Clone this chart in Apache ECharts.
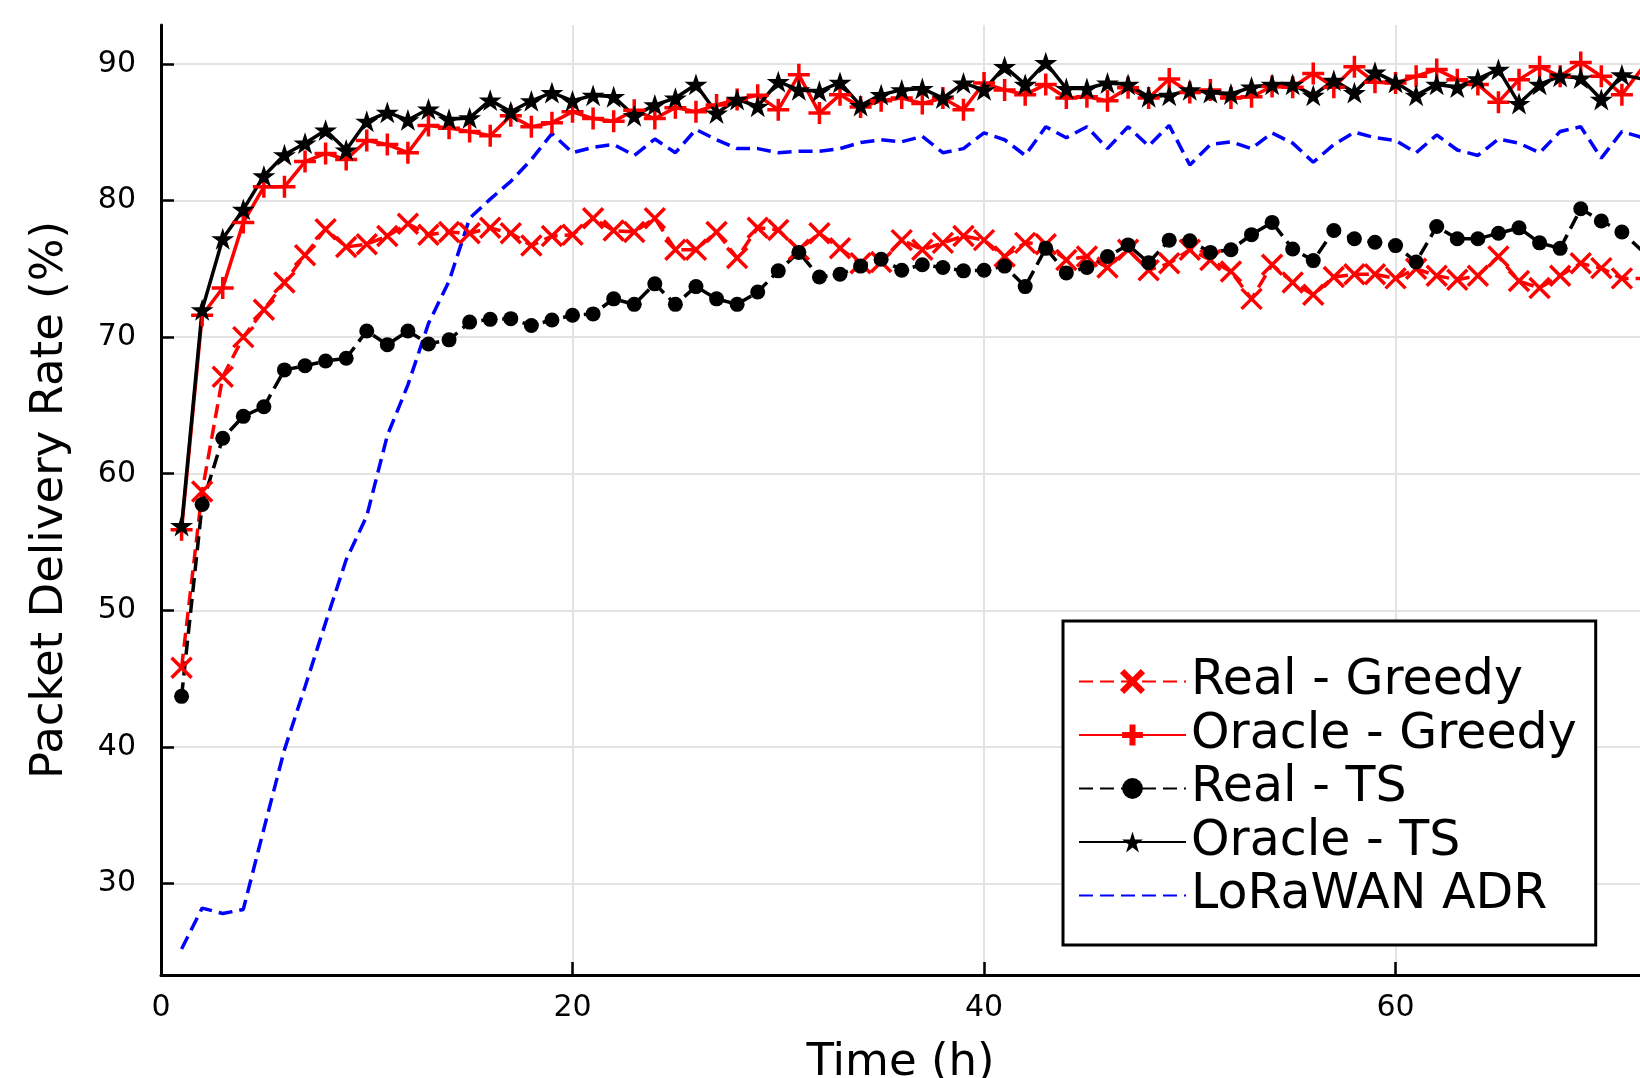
<!DOCTYPE html>
<html>
<head>
<meta charset="utf-8">
<title>Packet Delivery Rate</title>
<script src="https://cdn.jsdelivr.net/npm/echarts@6/dist/echarts.min.js"></script>
<style>
  html, body { margin: 0; padding: 0; background: #fff; }
  #chart { width: 1640px; height: 1078px; }
</style>
</head>
<body>
<div id="chart"></div>
<script>
// hours (x axis)
var hours = [1,2,3,4,5,6,7,8,9,10,11,12,13,14,15,16,17,18,19,20,
  21,22,23,24,25,26,27,28,29,30,31,32,33,34,35,36,37,38,39,40,
  41,42,43,44,45,46,47,48,49,50,51,52,53,54,55,56,57,58,59,60,
  61,62,63,64,65,66,67,68,69,70,71,72];

var realGreedy = [45.8,58.7,67.1,70.0,72.0,74.0,76.0,77.9,76.6,76.8,
  77.4,78.3,77.5,77.7,77.6,78.0,77.6,76.7,77.4,77.5,
  78.7,77.8,77.7,78.7,76.4,76.4,77.7,75.8,78.0,77.85,
  76.4,77.6,76.5,75.4,75.5,77.1,76.4,76.9,77.4,77.1,
  75.9,76.9,76.8,75.65,75.9,75.1,76.4,74.9,75.4,76.4,
  75.65,74.8,72.8,75.3,74.0,73.1,74.4,74.6,74.6,74.3,
  75.0,74.5,74.2,74.5,75.9,74.1,73.6,74.5,75.4,75.05,
  74.3,74.3];

var oracleGreedy = [55.9,71.6,73.6,78.4,81.0,81.0,82.85,83.45,83.0,84.4,
  84.1,83.5,85.5,85.3,85.05,84.75,86.2,85.4,85.7,86.5,
  86.0,85.8,86.6,86.0,86.8,86.5,87.0,87.4,87.7,86.65,
  89.2,86.4,87.75,86.85,87.3,87.5,87.1,87.5,86.65,88.6,
  88.1,87.75,88.5,87.5,87.6,87.3,88.25,87.5,88.9,87.9,
  88.1,87.5,87.6,88.35,88.3,89.3,88.3,89.8,88.65,88.6,
  89.1,89.6,88.85,88.5,87.2,88.85,89.8,89.1,90.1,89.1,
  87.75,89.7];

var realTS = [43.7,57.75,62.6,64.2,64.9,67.6,67.9,68.25,68.45,70.45,
  69.45,70.45,69.5,69.8,71.1,71.3,71.35,70.85,71.25,71.6,
  71.7,72.8,72.4,73.9,72.4,73.7,72.8,72.4,73.3,74.85,
  76.2,74.4,74.6,75.2,75.7,74.9,75.3,75.1,74.85,74.9,
  75.2,73.7,76.5,74.7,75.1,75.9,76.75,75.45,77.1,77.05,
  76.2,76.4,77.5,78.4,76.45,75.6,77.8,77.2,76.95,76.7,
  75.5,78.1,77.2,77.2,77.6,78.0,76.9,76.5,79.4,78.5,
  77.7,76.3];

var oracleTS = [56.2,72.0,77.2,79.35,81.8,83.35,84.2,85.15,83.7,85.8,
  86.45,85.9,86.7,85.95,86.05,87.35,86.5,87.3,87.9,87.3,
  87.7,87.6,86.2,87.0,87.5,88.5,86.4,87.4,86.9,88.7,
  88.1,88.0,88.65,86.95,87.75,88.1,88.2,87.5,88.6,88.1,
  89.8,88.5,90.1,88.2,88.2,88.6,88.5,87.6,87.7,88.1,
  87.9,87.8,88.3,88.5,88.5,87.7,88.8,87.9,89.4,88.65,
  87.7,88.5,88.3,88.9,89.6,87.1,88.5,89.1,88.97,87.4,
  89.2,88.9];

var lorawanADR = [25.2,28.2,27.8,28.1,34.0,39.8,44.4,49.1,53.7,56.9,
  62.8,66.5,71.0,74.1,78.7,80.1,81.4,83.0,84.9,83.5,
  83.9,84.1,83.3,84.5,83.5,85.2,84.45,83.8,83.8,83.5,
  83.6,83.6,83.8,84.25,84.45,84.3,84.7,83.5,83.8,84.95,
  84.45,83.3,85.4,84.6,85.4,83.8,85.4,84.0,85.5,82.6,
  84.1,84.3,83.8,84.95,84.2,82.8,84.1,85.0,84.6,84.4,
  83.5,84.8,83.7,83.3,84.5,84.2,83.5,85.05,85.4,83.1,
  85.05,84.6];

var xTicks = [0, 20, 40, 60];
var yTicks = [30, 40, 50, 60, 70, 80, 90];

function pairs(vals) {
  return vals.map(function (v, i) { return [hours[i], v]; });
}

var FONT = 'DejaVu Sans';
var X_SYM = 'path://M0,0L20,20M20,0L0,20';
var PLUS_SYM = 'path://M10,0L10,20M0,10L20,10';
var STAR_SYM = 'path://M50,0L61.2,34.5L97.6,34.5L68.2,55.9L79.4,90.5L50,69.1L20.6,90.5L31.8,55.9L2.4,34.5L38.8,34.5Z';

var chart = echarts.init(document.getElementById('chart'));
var option = {
  animation: false,
  backgroundColor: '#ffffff',
  textStyle: { fontFamily: FONT },
  grid: { left: 161, right: 0, top: 25, bottom: 103, containLabel: false, outerBoundsMode: 'none' },
  legend: {
    orient: 'vertical',
    left: 1063,
    top: 621,
    padding: [36, 19, 25, 15],
    itemWidth: 107,
    itemHeight: 26,
    itemGap: 4.5,
    backgroundColor: '#ffffff',
    borderColor: '#000000',
    borderWidth: 3,
    textStyle: { fontFamily: FONT, fontSize: 49, color: '#000', lineHeight: 49 },
    data: [
      { name: 'Real - Greedy', itemStyle: { borderWidth: 6 } },
      { name: 'Oracle - Greedy', itemStyle: { borderWidth: 6 } },
      'Real - TS',
      'Oracle - TS',
      { name: 'LoRaWAN ADR', itemStyle: { opacity: 0 } }
    ]
  },
  xAxis: {
    type: 'value',
    min: 0,
    max: 71.88,
    interval: 20,
    name: 'Time (h)',
    nameLocation: 'middle',
    nameGap: 66,
    nameTextStyle: { fontFamily: FONT, fontSize: 45, color: '#000' },
    axisLine: { show: true, onZero: false, lineStyle: { color: '#000', width: 3 } },
    axisTick: { show: true, inside: true, length: 13, lineStyle: { color: '#000', width: 2.5 }, customValues: xTicks },
    axisLabel: { fontFamily: FONT, fontSize: 30, color: '#000', margin: 18, customValues: xTicks },
    splitLine: { show: true, lineStyle: { color: '#e3e3e3', width: 2 } }
  },
  yAxis: {
    type: 'value',
    min: 23.3,
    max: 92.85,
    interval: 10,
    name: 'Packet Delivery Rate (%)',
    nameLocation: 'middle',
    nameGap: 88,
    nameTextStyle: { fontFamily: FONT, fontSize: 45, color: '#000' },
    axisLine: { show: true, onZero: false, lineStyle: { color: '#000', width: 3 } },
    axisTick: { show: true, inside: true, length: 13, lineStyle: { color: '#000', width: 2.5 }, customValues: yTicks },
    axisLabel: { fontFamily: FONT, fontSize: 30, color: '#000', margin: 25, padding: [5, 0, 0, 0], customValues: yTicks },
    splitLine: { show: true, lineStyle: { color: '#e3e3e3', width: 2 } }
  },
  series: [
    {
      name: 'Real - Greedy',
      type: 'line',
      data: pairs(realGreedy),
      symbol: X_SYM,
      symbolSize: 20,
      lineStyle: { color: '#ff0000', width: 3.5, type: [14, 7] },
      itemStyle: { color: '#ff0000', borderColor: '#ff0000', borderWidth: 3.5 }
    },
    {
      name: 'Oracle - Greedy',
      type: 'line',
      data: pairs(oracleGreedy),
      symbol: PLUS_SYM,
      symbolSize: 22,
      lineStyle: { color: '#ff0000', width: 3.5, type: 'solid' },
      itemStyle: { color: '#ff0000', borderColor: '#ff0000', borderWidth: 3.5 }
    },
    {
      name: 'Real - TS',
      type: 'line',
      data: pairs(realTS),
      symbol: 'circle',
      symbolSize: 15,
      lineStyle: { color: '#000000', width: 3.5, type: [14, 7] },
      itemStyle: { color: '#000000', borderWidth: 0 }
    },
    {
      name: 'Oracle - TS',
      type: 'line',
      data: pairs(oracleTS),
      symbol: STAR_SYM,
      symbolSize: 23,
      symbolKeepAspect: true,
      lineStyle: { color: '#000000', width: 3.5, type: 'solid' },
      itemStyle: { color: '#000000', borderWidth: 0 }
    },
    {
      name: 'LoRaWAN ADR',
      type: 'line',
      data: pairs(lorawanADR),
      symbol: 'none',
      lineStyle: { color: '#0000ff', width: 3.5, type: [14, 7] },
      itemStyle: { color: '#0000ff' }
    }
  ]
};
chart.setOption(option);
</script>
</body>
</html>
